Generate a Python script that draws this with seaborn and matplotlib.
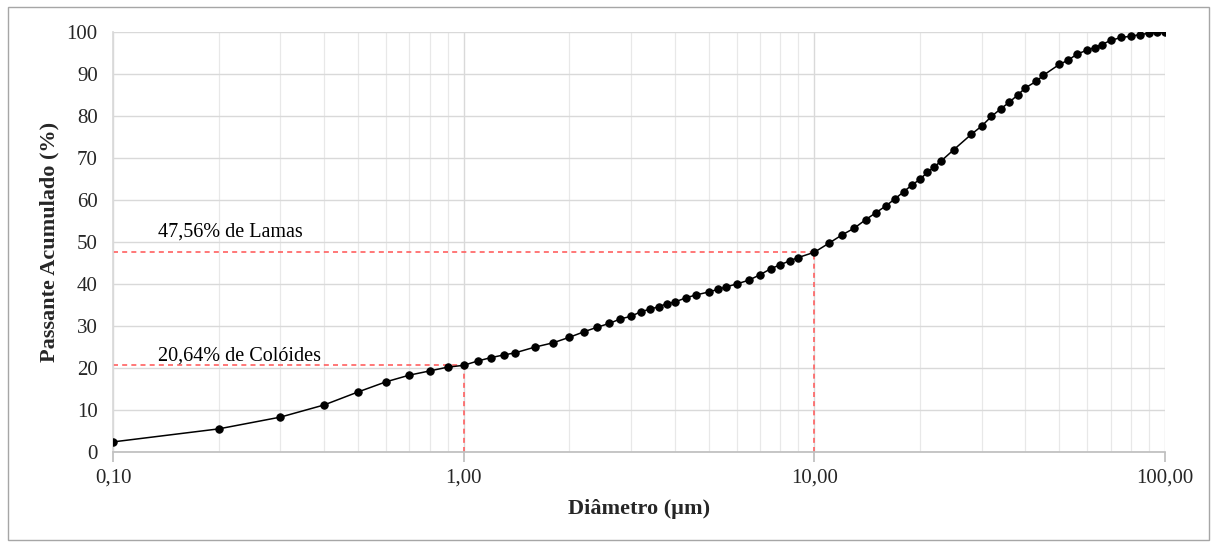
import matplotlib
matplotlib.use("Agg")
import matplotlib.pyplot as plt
import seaborn as sns
import pandas as pd
from matplotlib.ticker import FixedLocator, FuncFormatter, LogLocator, NullFormatter
from matplotlib.patches import Rectangle

# ---- data ----
diametro = [0.1, 0.2, 0.3, 0.4, 0.5, 0.6, 0.7, 0.8, 0.9, 1.0,
            1.1, 1.2, 1.3, 1.4, 1.6, 1.8, 2.0, 2.2, 2.4, 2.6, 2.8, 3.0,
            3.2, 3.4, 3.6, 3.8, 4.0, 4.3, 4.6, 5.0, 5.3, 5.6, 6.0, 6.5,
            7.0, 7.5, 8.0, 8.5, 9.0, 10, 11, 12, 13, 14, 15, 16, 17, 18,
            19, 20, 21, 22, 23, 25, 28, 30, 32, 34, 36, 38, 40, 43, 45,
            50, 53, 56, 60, 63, 66, 70, 75, 80, 85, 90, 95, 100]
passante = [2.4, 5.5, 8.3, 11.2, 14.3, 16.7, 18.3, 19.3, 20.2, 20.64,
            21.7, 22.5, 23.1, 23.6, 25.0, 26.0, 27.3, 28.6, 29.7, 30.6, 31.7, 32.3,
            33.4, 34.0, 34.6, 35.3, 35.7, 36.7, 37.4, 38.1, 38.7, 39.3, 40.0, 40.9,
            42.2, 43.6, 44.6, 45.5, 46.3, 47.56, 49.7, 51.7, 53.3, 55.3, 57.0, 58.6, 60.3, 62.0,
            63.6, 64.9, 66.6, 67.9, 69.3, 72.0, 75.6, 77.6, 79.9, 81.7, 83.3, 85.0, 86.7, 88.3, 89.7,
            92.3, 93.3, 94.7, 95.7, 96.3, 97.0, 98.0, 98.7, 99.0, 99.4, 99.7, 100.0, 100.0]

ref_labels = ["20,64% de Colóides", "47,56% de Lamas"]
ref_x = [1.0, 10.0]
ref_y = [20.64, 47.56]

x_ticks = [0.1, 1, 10, 100]
x_tick_labels = ["0,10", "1,00", "10,00", "100,00"]
y_ticks = list(range(0, 101, 10))

df = pd.DataFrame({"Diâmetro": diametro, "Passante": passante})

sns.set_theme(style="white")
plt.rcParams["font.family"] = ["Liberation Serif", "DejaVu Serif"]

fig = plt.figure(figsize=(12.16, 5.47), dpi=100)
ax = fig.add_axes([113/1216, 1-452/547, (1165-113)/1216, (452-32)/547])

ax.set_xscale("log")
ax.set_xlim(0.1, 100)
ax.set_ylim(0, 100)

grid_c = "#D9D9D9"
ax.xaxis.set_major_locator(FixedLocator(x_ticks))
ax.xaxis.set_minor_locator(LogLocator(base=10, subs=range(2, 10)))
ax.xaxis.set_minor_formatter(NullFormatter())
ax.xaxis.set_major_formatter(FuncFormatter(lambda v, p: x_tick_labels[x_ticks.index(round(v, 3))] if round(v, 3) in x_ticks else ""))
ax.set_yticks(y_ticks)
ax.grid(True, which="major", axis="both", color=grid_c, linewidth=1.0)
ax.grid(True, which="minor", axis="x", color="#E8E8E8", linewidth=0.9)
ax.set_axisbelow(True)

for s in ["top", "right"]:
    ax.spines[s].set_visible(False)
ax.spines["left"].set_color(grid_c)
ax.spines["bottom"].set_color("#BFBFBF")
ax.tick_params(axis="x", which="major", length=7, color="#BFBFBF", direction="out",
               labelsize=15, pad=5, bottom=True)
ax.tick_params(axis="x", which="minor", length=0)
ax.tick_params(axis="y", which="major", length=0, labelsize=15, pad=11)

# reference lines
red = "#FF6060"
for lx, ly in zip(ref_x, ref_y):
    ax.plot([0.1, lx], [ly, ly], linestyle=(0, (3, 2.5)), color=red, linewidth=1.2, zorder=2)
    ax.plot([lx, lx], [0, ly], linestyle=(0, (3, 2.5)), color=red, linewidth=1.2, zorder=2)

sns.lineplot(data=df, x="Diâmetro", y="Passante", ax=ax, color="black", linewidth=1.1,
             marker="o", markersize=5.3, markeredgecolor="black", zorder=3)

ax.text(0.134, 21.7, ref_labels[0], fontsize=14.5, color="black", va="baseline", ha="left")
ax.text(0.134, 51.2, ref_labels[1], fontsize=14.5, color="black", va="baseline", ha="left")

ax.set_xlabel("Diâmetro (µm)", fontsize=16, fontweight="bold", labelpad=8)
ax.set_ylabel("Passante Acumulado (%)", fontsize=16, fontweight="bold", labelpad=5)

fig.patches.append(Rectangle((8/1216, 7/547), 1201/1216, 533/547, transform=fig.transFigure,
                             fill=False, edgecolor="#A6A6A6", linewidth=1.0))

fig.savefig("out.png", dpi=100)
